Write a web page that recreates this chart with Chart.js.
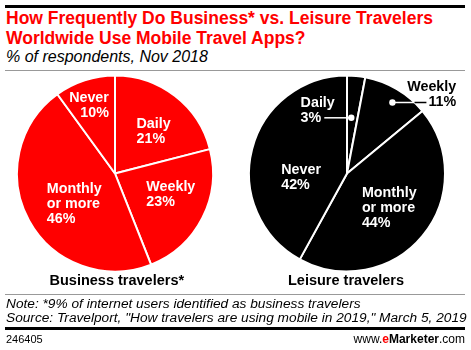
<!DOCTYPE html>
<html>
<head>
<meta charset="utf-8">
<script src="https://cdn.jsdelivr.net/npm/chart.js@4"></script>
<style>
  html, body { margin: 0; padding: 0; background: #fff; }
  body { width: 471px; height: 350px; position: relative; overflow: hidden; font-family: "Liberation Sans", Arial, sans-serif; }
  .abs { position: absolute; white-space: nowrap; }
  .rule { position: absolute; left: 5px; width: 460px; }
  canvas { position: absolute; }
</style>
</head>
<body>
<div class="rule" style="top:5px;height:3px;background:#000;"></div>
<div class="abs" style="left:6px;top:8px;font-weight:bold;font-size:17.5px;line-height:20px;color:#ff0000;">How Frequently Do Business* vs. Leisure Travelers<br>Worldwide Use Mobile Travel Apps?</div>
<div class="abs" style="left:6px;top:48px;font-style:italic;font-size:16px;line-height:18px;color:#000;">% of respondents, Nov 2018</div>
<div class="rule" style="top:70px;height:1px;background:#999;"></div>

<div style="position:absolute;left:0;top:71px;width:230px;height:205px;"><canvas id="c1"></canvas></div>
<div style="position:absolute;left:223px;top:71px;width:248px;height:205px;"><canvas id="c2"></canvas></div>

<div class="abs" id="lab1" style="top:272px;font-weight:bold;font-size:14.5px;line-height:16px;color:#000;">Business travelers*</div>
<div class="abs" id="lab2" style="top:272px;font-weight:bold;font-size:14.5px;line-height:16px;color:#000;">Leisure travelers</div>

<div class="rule" style="top:294px;height:1px;background:#999;"></div>
<div class="abs" style="left:6px;top:297px;font-style:italic;font-size:13.7px;line-height:13.5px;color:#000;">Note: *9% of internet users identified as business travelers<br>Source: Travelport, "How travelers are using mobile in 2019," March 5, 2019</div>
<div class="rule" style="top:327px;height:3px;background:#000;"></div>
<div class="abs" style="left:6px;top:333px;font-size:11px;line-height:12px;color:#000;">246405</div>
<div class="abs" style="right:6px;top:333px;font-size:12px;line-height:12px;color:#000;">www.<b style="color:#ff0000">e</b><b>Marketer</b>.com</div>

<script>
// ---- data ----
const categories = ["Daily", "Weekly", "Monthly or more", "Never"];
const businessValues = [21, 23, 46, 10];
const leisureValues = [3, 11, 44, 42];
const chartTitles = ["Business travelers*", "Leisure travelers"];

// ---- label layout (style, not data) ----
const businessLabelStyle = [
  { frac: 0.58, dAng: 5,  align: 'left' },
  { frac: 0.61, dAng: -6, align: 'left' },
  { frac: 0.52, dAng: -8, align: 'left' },
  { frac: 0.74, dAng: -3, align: 'right' }
];
const leisureLabelStyle = [
  { frac: 0.57, dAng: -1, mode: 'dotL' },
  { frac: 0.86, dAng: 2,  mode: 'dotR' },
  { frac: 0.56, dAng: 0,  align: 'left' },
  { frac: 0.47, dAng: -19, align: 'left' }
];

const LABEL_FONT = 'bold 14.3px "Liberation Sans", Arial, sans-serif';
const LINE_H = 15;

function splitLabel(cat, v) {
  const lines = cat === "Monthly or more" ? ["Monthly", "or more"] : [cat];
  lines.push(v + "%");
  return lines;
}

function makeLabelPlugin(values, styles, textColor) {
  return {
    id: 'sliceLabels',
    afterDatasetsDraw(chart) {
      const ctx = chart.ctx;
      const meta = chart.getDatasetMeta(0);
      ctx.save();
      ctx.font = LABEL_FONT;
      ctx.textBaseline = 'middle';
      meta.data.forEach((arc, i) => {
        const st = styles[i];
        const p = arc.getProps(['x', 'y', 'startAngle', 'endAngle', 'outerRadius'], true);
        const mid = (p.startAngle + p.endAngle) / 2 + st.dAng * Math.PI / 180;
        const r = p.outerRadius * st.frac;
        const ax = p.x + Math.cos(mid) * r;
        const ay = p.y + Math.sin(mid) * r;
        const lines = splitLabel(categories[i], values[i]);
        if (st.mode === 'dotL' || st.mode === 'dotR') {
          const dir = st.mode === 'dotL' ? -1 : 1;
          const lineLen = st.mode === 'dotL' ? 27 : 34;
          const endX = ax + dir * lineLen;
          ctx.lineWidth = 1.5;
          if (st.mode === 'dotL') {
            ctx.strokeStyle = '#fff';
            ctx.beginPath(); ctx.moveTo(ax, ay); ctx.lineTo(endX, ay); ctx.stroke();
          } else {
            const dy = ay - p.y;
            const edgeX = p.x + Math.sqrt(Math.max(p.outerRadius * p.outerRadius - dy * dy, 0));
            ctx.strokeStyle = '#fff';
            ctx.beginPath(); ctx.moveTo(ax, ay); ctx.lineTo(edgeX, ay); ctx.stroke();
            ctx.strokeStyle = '#000';
            ctx.beginPath(); ctx.moveTo(edgeX, ay); ctx.lineTo(endX, ay); ctx.stroke();
          }
          ctx.fillStyle = '#fff';
          ctx.beginPath(); ctx.arc(ax, ay, 3.2, 0, Math.PI * 2); ctx.fill();
          const n = lines.length;
          if (st.mode === 'dotL') {
            ctx.fillStyle = '#fff';
            ctx.textAlign = 'left';
            const w = ctx.measureText(lines[n - 1]).width;
            const left = endX - 3 - w;
            lines.forEach((t, k) => ctx.fillText(t, left, ay + (k - (n - 1)) * LINE_H));
          } else {
            ctx.fillStyle = '#000';
            ctx.textAlign = 'right';
            const w = ctx.measureText(lines[n - 1]).width;
            const right = endX + 2 + w;
            lines.forEach((t, k) => ctx.fillText(t, right, ay + (k - (n - 1)) * LINE_H));
          }
          return;
        }
        const widths = lines.map(t => ctx.measureText(t).width);
        const bw = Math.max(...widths);
        const top = ay - (lines.length * LINE_H) / 2 + LINE_H / 2;
        ctx.fillStyle = textColor;
        lines.forEach((t, k) => {
          const y = top + k * LINE_H;
          if (st.align === 'right') { ctx.textAlign = 'right'; ctx.fillText(t, ax + bw / 2, y); }
          else { ctx.textAlign = 'left'; ctx.fillText(t, ax - bw / 2, y); }
        });
      });
      ctx.restore();
    }
  };
}

function makePie(id, values, color, styles) {
  return new Chart(document.getElementById(id), {
    type: 'pie',
    data: {
      labels: categories,
      datasets: [{
        data: values,
        backgroundColor: color,
        borderColor: '#ffffff',
        borderWidth: 2,
        hoverOffset: 0
      }]
    },
    options: {
      responsive: true,
      maintainAspectRatio: false,
      animation: false,
      radius: 98,
      layout: { padding: 0 },
      plugins: { legend: { display: false }, tooltip: { enabled: false }, title: { display: false } },
      events: []
    },
    plugins: [makeLabelPlugin(values, styles, '#fff')]
  });
}

makePie('c1', businessValues, '#ff0000', businessLabelStyle);
makePie('c2', leisureValues, '#000000', leisureLabelStyle);

function centerUnder(elId, cx) {
  const el = document.getElementById(elId);
  el.style.left = (cx - el.offsetWidth / 2) + 'px';
}
document.getElementById('lab1').textContent = chartTitles[0];
document.getElementById('lab2').textContent = chartTitles[1];
centerUnder('lab1', 117);
centerUnder('lab2', 346);
</script>
</body>
</html>
